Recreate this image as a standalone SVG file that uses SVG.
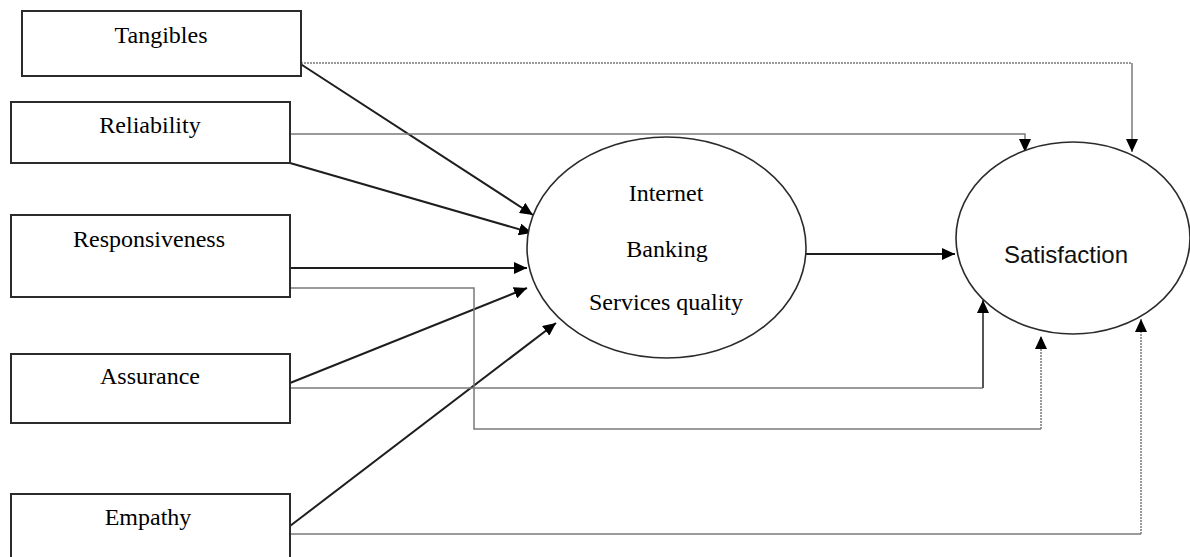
<svg xmlns="http://www.w3.org/2000/svg" width="1190" height="557" viewBox="0 0 1190 557">
  <style>
    .box { fill: #ffffff; stroke: #2b2b2b; stroke-width: 2; }
    .oval { fill: #ffffff; stroke: #2b2b2b; stroke-width: 1.6; }
    .lbl { font-family: "Liberation Serif", "Times New Roman", serif; font-size: 24px; fill: #000000; text-anchor: middle; }
    .lbl-sans { font-family: "Liberation Sans", Arial, sans-serif; font-size: 24px; fill: #111111; text-anchor: middle; }
    .solid { fill: none; stroke: #1e1e1e; stroke-width: 2; }
    .thin { fill: none; stroke: #7a7a7a; stroke-width: 1.5; }
    .dark { fill: none; stroke: #555555; stroke-width: 2; }
    .dot { fill: none; stroke: #7a7a7a; stroke-width: 1.5; stroke-dasharray: 2 1; }
  </style>
  <defs>
    <marker id="head" viewBox="0 0 13 12" refX="13" refY="6" markerWidth="13" markerHeight="12" markerUnits="userSpaceOnUse" orient="auto">
      <path d="M0,0 L13,6 L0,12 Z" fill="#000000"/>
    </marker>
  </defs>

  <rect width="1190" height="557" fill="#ffffff"/>

  <!-- connectors -->
  <g id="connectors">
    <!-- dimensions into service quality -->
    <line class="solid" x1="299" y1="63" x2="533" y2="215" marker-end="url(#head)"/>
    <line class="solid" x1="290" y1="163" x2="532" y2="233" marker-end="url(#head)"/>
    <line class="solid" x1="290" y1="268" x2="527" y2="268" marker-end="url(#head)"/>
    <line class="solid" x1="290" y1="383" x2="527" y2="288" marker-end="url(#head)"/>
    <line class="solid" x1="290" y1="526" x2="556" y2="323" marker-end="url(#head)"/>
    <!-- service quality to satisfaction -->
    <line class="solid" x1="806" y1="254" x2="955" y2="254" marker-end="url(#head)"/>
    <!-- direct paths to satisfaction -->
    <path class="dot" d="M301,63 H1132"/>
    <path class="thin" d="M1132,63 V152" marker-end="url(#head)"/>
    <path class="thin" d="M290,134 H1025 V152" marker-end="url(#head)"/>
    <path class="thin" d="M290,288 H474 V429 H1041"/>
    <path class="dot" d="M1041,429 V336" marker-end="url(#head)"/>
    <path class="thin" d="M290,388 H983"/>
    <path class="dark" d="M983,388 V300" marker-end="url(#head)"/>
    <path class="thin" d="M290,534 H1141"/>
    <path class="dot" d="M1141,534 V319" marker-end="url(#head)"/>
  </g>

  <g id="tangibles">
    <rect class="box" x="22" y="11" width="279" height="65"/>
    <text class="lbl" x="161" y="43">Tangibles</text>
  </g>
  <g id="reliability">
    <rect class="box" x="11" y="102" width="279" height="61"/>
    <text class="lbl" x="150" y="133">Reliability</text>
  </g>
  <g id="responsiveness">
    <rect class="box" x="11" y="215" width="279" height="82"/>
    <text class="lbl" x="149" y="247">Responsiveness</text>
  </g>
  <g id="assurance">
    <rect class="box" x="11" y="354" width="279" height="69"/>
    <text class="lbl" x="150" y="384">Assurance</text>
  </g>
  <g id="empathy">
    <rect class="box" x="11" y="494" width="279" height="72"/>
    <text class="lbl" x="148" y="525">Empathy</text>
  </g>
  <g id="service-quality">
    <ellipse class="oval" cx="666.5" cy="247.5" rx="139.5" ry="110.5"/>
    <text class="lbl" x="666" y="201">Internet</text>
    <text class="lbl" x="667" y="257">Banking</text>
    <text class="lbl" x="666" y="310">Services quality</text>
  </g>
  <g id="satisfaction">
    <ellipse class="oval" cx="1073" cy="238" rx="117" ry="96"/>
    <text class="lbl-sans" x="1066" y="263">Satisfaction</text>
  </g>
</svg>
